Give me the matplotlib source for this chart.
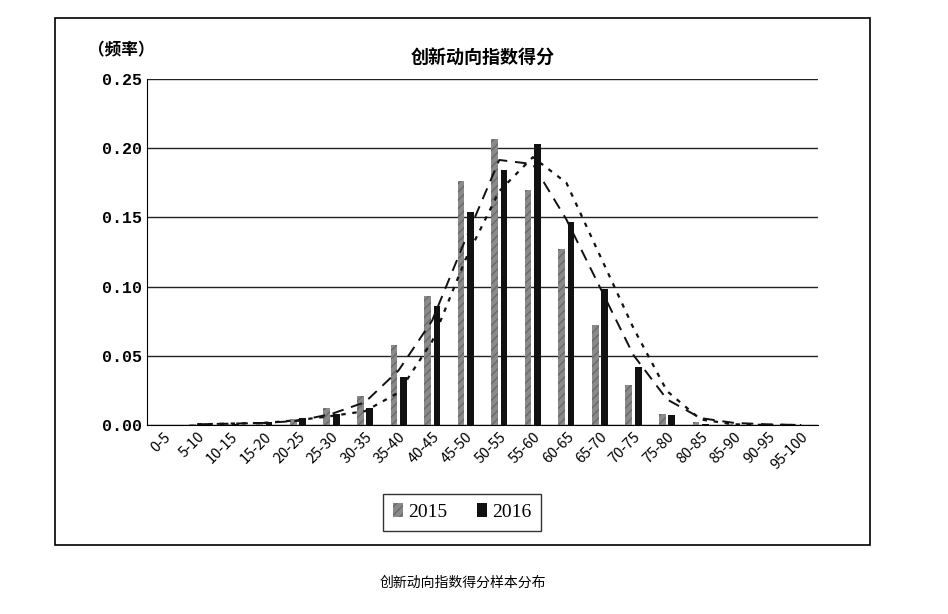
import numpy as np
import matplotlib.pyplot as plt
from matplotlib.patches import Rectangle

plt.rcParams['font.family'] = ['Noto Sans CJK SC', 'DejaVu Sans']

categories = ["0-5", "5-10", "10-15", "15-20", "20-25", "25-30", "30-35", "35-40", "40-45",
              "45-50", "50-55", "55-60", "60-65", "65-70", "70-75", "75-80", "80-85",
              "85-90", "90-95", "95-100"]
freq_2015 = [0.0, 0.001, 0.001, 0.002, 0.004, 0.012, 0.021, 0.058, 0.093, 0.176,
             0.207, 0.170, 0.127, 0.072, 0.029, 0.008, 0.002, 0.001, 0.0, 0.0]
freq_2016 = [0.0, 0.001, 0.001, 0.002, 0.005, 0.008, 0.012, 0.035, 0.086, 0.154,
             0.184, 0.203, 0.147, 0.098, 0.042, 0.007, 0.001, 0.0, 0.0, 0.0]
yticks = [0.0, 0.05, 0.10, 0.15, 0.20, 0.25]

# two-period moving average trend lines
ma15 = np.convolve(freq_2015, [0.5, 0.5], mode="valid")
ma16 = np.convolve(freq_2016, [0.5, 0.5], mode="valid")

fig = plt.figure(figsize=(9.48, 6.14), dpi=100)
ax = fig.add_axes([147 / 948, 1 - 425 / 614, (818 - 147) / 948, (425 - 79) / 614])

x = np.arange(len(categories))
w = 0.2
ax.bar(x - 0.14, freq_2015, w, color="#8a8a8a", hatch="////", edgecolor="#6a6a6a", linewidth=0, label="2015")
ax.bar(x + 0.14, freq_2016, w, color="#111111", label="2016")
ax.plot(x[1:], ma15, ls=(0, (6, 4)), color="#111111", lw=1.4)
ax.plot(x[1:], ma16, ls=(0, (2, 3)), color="#111111", lw=1.6)

ax.set_xlim(-0.5, len(categories) - 0.5)
ax.set_ylim(0, 0.25)
ax.set_yticks(yticks)
ax.set_yticklabels([f"{v:.2f}" for v in yticks], family="Liberation Mono", fontweight="bold", fontsize=12)
ax.yaxis.grid(True, color="#222222", lw=1)
ax.set_axisbelow(True)
ax.tick_params(length=0)
ax.set_xticks(x)
ax.set_xticklabels(categories, rotation=45, ha="right", rotation_mode="anchor", fontsize=10.5)
for s in ["top", "right"]:
    ax.spines[s].set_visible(False)

ax.set_title("创新动向指数得分", fontsize=13, fontweight="bold", pad=12)
fig.text(88 / 948, 1 - 50 / 614, "（频率）", fontsize=12, fontweight="bold", va="center")
ax.legend(loc="upper center", bbox_to_anchor=(0.47, -0.17), ncol=2, frameon=True, fancybox=False,
          edgecolor="black", handlelength=0.5, handletextpad=0.3, columnspacing=1.5,
          borderpad=0.5, prop={"family": "Liberation Serif", "size": 14})

fig.patches.append(Rectangle((55 / 948, 1 - 545 / 614), (870 - 55) / 948, (545 - 18) / 614,
                             transform=fig.transFigure, fill=False, edgecolor="black", lw=1.2))
fig.text(463 / 948, 1 - 583 / 614, "创新动向指数得分样本分布", fontsize=10, ha="center", va="center")

fig.savefig("out.png", dpi=100)
